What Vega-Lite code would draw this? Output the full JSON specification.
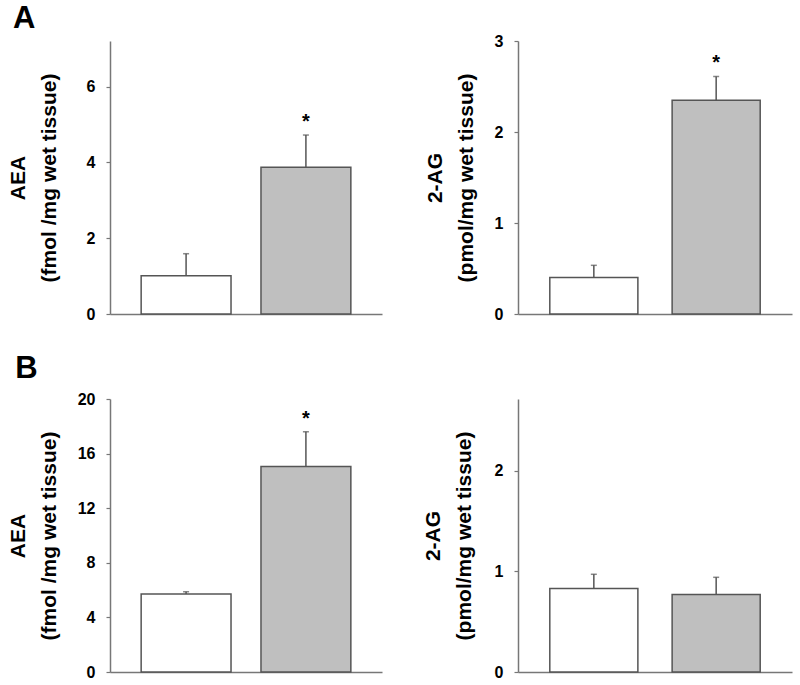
{
  "$schema": "https://vega.github.io/schema/vega-lite/v6.json",
  "padding": {"left": 7, "top": 3, "right": 5, "bottom": 5},
  "background": "white",
  "config": {
    "view": {"stroke": null},
    "font": "Liberation Sans",
    "axis": {"grid": false, "domainColor": "#777777", "domainWidth": 1.5, "tickColor": "#777777", "tickWidth": 1.2},
    "axisY": {"tickSize": 4, "labelPadding": 11, "labelFontSize": 16, "labelFontWeight": "bold", "labelColor": "#000000", "labelFont": "Liberation Sans", "titleFont": "Liberation Sans", "titleFontSize": 21, "titleFontWeight": "bold", "titleColor": "#000000", "titleLineHeight": 31, "titlePadding": 18, "format": "d"},
    "axisX": {"labels": false, "ticks": false, "title": null},
    "title": {"font": "Liberation Sans", "fontSize": 31, "fontWeight": "bold", "color": "#000000", "anchor": "start", "frame": "bounds"}
  },
  "columns": 2,
  "spacing": {"row": 31, "column": 40},
  "concat": [
    {
      "title": {"text": "A", "dx": 6, "offset": 6},
      "width": 272, "height": 273,
      "data": {"values": [
        {"group": "control", "mean": 1.01, "upper": 1.59, "star": ""},
        {"group": "treated", "mean": 3.87, "upper": 4.72, "star": "*"}
      ]},
      "encoding": {"x": {"field": "group", "type": "nominal", "sort": ["control", "treated"], "scale": {"paddingInner": 0.25, "paddingOuter": 0.26}, "axis": {"title": null}}},
      "layer": [
        {"mark": {"type": "bar", "stroke": "#555555", "strokeWidth": 1.5},
         "encoding": {
           "y": {"field": "mean", "type": "quantitative", "scale": {"domain": [0, 7.2], "nice": false}, "axis": {"values": [0, 2, 4, 6], "titlePadding": 27, "title": ["AEA", "(fmol /mg wet tissue)"]}},
           "fill": {"field": "group", "type": "nominal", "scale": {"domain": ["control", "treated"], "range": ["#ffffff", "#bfbfbf"]}, "legend": null}}},
        {"mark": {"type": "rule", "color": "#555555", "strokeWidth": 1.5},
         "encoding": {"y": {"field": "mean", "type": "quantitative"}, "y2": {"field": "upper"}}},
        {"mark": {"type": "tick", "color": "#555555", "size": 6, "thickness": 1.5},
         "encoding": {"y": {"field": "upper", "type": "quantitative"}}},
        {"mark": {"type": "text", "dy": -13, "fontSize": 20, "fontWeight": "bold", "color": "#000000"},
         "encoding": {"y": {"field": "upper", "type": "quantitative"}, "text": {"field": "star"}}}
      ]
    },
    {
      "width": 274, "height": 273,
      "data": {"values": [
        {"group": "control", "mean": 0.40, "upper": 0.535, "star": ""},
        {"group": "treated", "mean": 2.35, "upper": 2.61, "star": "*"}
      ]},
      "encoding": {"x": {"field": "group", "type": "nominal", "sort": ["control", "treated"], "scale": {"paddingInner": 0.28, "paddingOuter": 0.26}, "axis": {"title": null}}},
      "layer": [
        {"mark": {"type": "bar", "stroke": "#555555", "strokeWidth": 1.5},
         "encoding": {
           "y": {"field": "mean", "type": "quantitative", "scale": {"domain": [0, 3], "nice": false}, "axis": {"values": [0, 1, 2, 3], "title": ["2-AG", "(pmol/mg wet tissue)"]}},
           "fill": {"field": "group", "type": "nominal", "scale": {"domain": ["control", "treated"], "range": ["#ffffff", "#bfbfbf"]}, "legend": null}}},
        {"mark": {"type": "rule", "color": "#555555", "strokeWidth": 1.5},
         "encoding": {"y": {"field": "mean", "type": "quantitative"}, "y2": {"field": "upper"}}},
        {"mark": {"type": "tick", "color": "#555555", "size": 6, "thickness": 1.5},
         "encoding": {"y": {"field": "upper", "type": "quantitative"}}},
        {"mark": {"type": "text", "dy": -13, "fontSize": 20, "fontWeight": "bold", "color": "#000000"},
         "encoding": {"y": {"field": "upper", "type": "quantitative"}, "text": {"field": "star"}}}
      ]
    },
    {
      "title": {"text": "B", "dx": 8, "offset": 6},
      "width": 272, "height": 273,
      "data": {"values": [
        {"group": "control", "mean": 5.71, "upper": 5.88, "star": ""},
        {"group": "treated", "mean": 15.05, "upper": 17.6, "star": "*"}
      ]},
      "encoding": {"x": {"field": "group", "type": "nominal", "sort": ["control", "treated"], "scale": {"paddingInner": 0.25, "paddingOuter": 0.26}, "axis": {"title": null}}},
      "layer": [
        {"mark": {"type": "bar", "stroke": "#555555", "strokeWidth": 1.5},
         "encoding": {
           "y": {"field": "mean", "type": "quantitative", "scale": {"domain": [0, 20], "nice": false}, "axis": {"values": [0, 4, 8, 12, 16, 20], "title": ["AEA", "(fmol /mg wet tissue)"]}},
           "fill": {"field": "group", "type": "nominal", "scale": {"domain": ["control", "treated"], "range": ["#ffffff", "#bfbfbf"]}, "legend": null}}},
        {"mark": {"type": "rule", "color": "#555555", "strokeWidth": 1.5},
         "encoding": {"y": {"field": "mean", "type": "quantitative"}, "y2": {"field": "upper"}}},
        {"mark": {"type": "tick", "color": "#555555", "size": 6, "thickness": 1.5},
         "encoding": {"y": {"field": "upper", "type": "quantitative"}}},
        {"mark": {"type": "text", "dy": -13, "fontSize": 20, "fontWeight": "bold", "color": "#000000"},
         "encoding": {"y": {"field": "upper", "type": "quantitative"}, "text": {"field": "star"}}}
      ]
    },
    {
      "width": 274, "height": 273,
      "data": {"values": [
        {"group": "control", "mean": 0.83, "upper": 0.97, "star": ""},
        {"group": "treated", "mean": 0.77, "upper": 0.94, "star": ""}
      ]},
      "encoding": {"x": {"field": "group", "type": "nominal", "sort": ["control", "treated"], "scale": {"paddingInner": 0.28, "paddingOuter": 0.26}, "axis": {"title": null}}},
      "layer": [
        {"mark": {"type": "bar", "stroke": "#555555", "strokeWidth": 1.5},
         "encoding": {
           "y": {"field": "mean", "type": "quantitative", "scale": {"domain": [0, 2.71], "nice": false}, "axis": {"values": [0, 1, 2], "titlePadding": 20, "title": ["2-AG", "(pmol/mg wet tissue)"]}},
           "fill": {"field": "group", "type": "nominal", "scale": {"domain": ["control", "treated"], "range": ["#ffffff", "#bfbfbf"]}, "legend": null}}},
        {"mark": {"type": "rule", "color": "#555555", "strokeWidth": 1.5},
         "encoding": {"y": {"field": "mean", "type": "quantitative"}, "y2": {"field": "upper"}}},
        {"mark": {"type": "tick", "color": "#555555", "size": 6, "thickness": 1.5},
         "encoding": {"y": {"field": "upper", "type": "quantitative"}}}
      ]
    }
  ]
}
